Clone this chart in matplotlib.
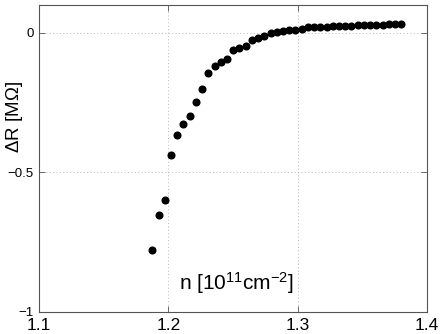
import matplotlib
matplotlib.use("Agg")
import matplotlib.pyplot as plt

plt.rcParams['font.family'] = ['Liberation Sans', 'DejaVu Sans']
plt.rcParams['mathtext.fontset'] = 'custom'
plt.rcParams['mathtext.rm'] = 'Liberation Sans'
plt.rcParams['mathtext.it'] = 'Liberation Sans'

n_vals = [1.1876, 1.1924, 1.1972, 1.2020, 1.2069, 1.2117, 1.2165, 1.2213, 1.2261,
          1.2309, 1.2357, 1.2406, 1.2454, 1.2502, 1.2550, 1.2598, 1.2646, 1.2694,
          1.2742, 1.2791, 1.2839, 1.2887, 1.2935, 1.2983, 1.3031, 1.3079, 1.3128,
          1.3176, 1.3224, 1.3272, 1.3320, 1.3368, 1.3416, 1.3465, 1.3513, 1.3561,
          1.3609, 1.3657, 1.3705, 1.3753, 1.3802]
dR_vals = [-0.777, -0.652, -0.600, -0.438, -0.365, -0.327, -0.296, -0.249, -0.202,
           -0.145, -0.117, -0.105, -0.095, -0.061, -0.055, -0.047, -0.024, -0.017,
           -0.0125, -0.002, 0.003, 0.008, 0.011, 0.011, 0.0125, 0.021, 0.021,
           0.021, 0.022, 0.023, 0.026, 0.026, 0.026, 0.027, 0.028, 0.028,
           0.029, 0.030, 0.0315, 0.0315, 0.033]

x_ticks = [1.1, 1.2, 1.3, 1.4]
x_ticklabels = ['1.1', '1.2', '1.3', '1.4']
y_ticks = [-1, -0.5, 0]
y_ticklabels = ['\u22121', '\u22120.5', '0']

W, H = 441, 334
fig = plt.figure(figsize=(W / 100, H / 100), dpi=100)
ax = fig.add_axes([39 / W, 1 - 312 / H, (427 - 39) / W, (312 - 5) / H])

ax.plot(n_vals, dR_vals, 'o', color='black', markersize=4.8, zorder=3)

ax.set_xlim(1.1, 1.4)
ax.set_ylim(-1, 0.1)
ax.set_xticks(x_ticks)
ax.set_xticklabels(x_ticklabels, fontsize=12.5)
ax.set_yticks(y_ticks)
ax.set_yticklabels(y_ticklabels, fontsize=9.5)
ax.tick_params(direction='in', length=4, width=0.6, color='#555555',
               top=True, right=True)
ax.tick_params(axis='x', pad=4)
ax.tick_params(axis='y', pad=4)
ax.grid(True, linestyle=(0, (1, 2.5)), color='#b8b8b8', linewidth=0.7)
for s in ax.spines.values():
    s.set_color('#555555')
    s.set_linewidth(0.8)

ax.set_xlabel(r'n [10$^{11}$cm$^{-2}$]', fontsize=15)
ax.xaxis.set_label_coords(0.51, 0.135)
ax.set_ylabel(r'$\Delta$R [M$\Omega$]', fontsize=13.5)
ax.yaxis.set_label_coords(-0.036, 0.635)

fig.savefig('out.png', dpi=100)
